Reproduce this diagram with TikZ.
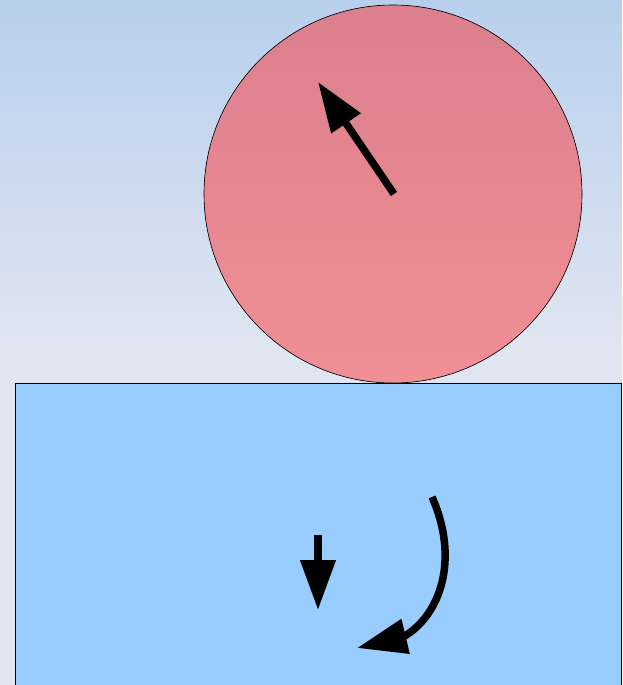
\documentclass[tikz,border=0pt]{standalone}
\usepackage{tikz}
\usetikzlibrary{arrows.meta}
\definecolor{skytop}{RGB}{184, 207, 236}
\definecolor{skybottom}{RGB}{223, 229, 241}
\definecolor{balltop}{RGB}{220, 127, 142}
\definecolor{ballbottom}{RGB}{240, 143, 149}
\definecolor{blockfill}{RGB}{153, 204, 255}

\begin{document}
\begin{tikzpicture}[
          x=1pt, y=-1pt,
          ball/.style={draw=black, line width=0.6pt, top color=balltop, bottom color=ballbottom},
          block/.style={draw=black, line width=0.8pt, fill=blockfill},
          arr/.style={-{Triangle[length=50pt, width=34pt]}, line width=7.5pt, color=black},
        ]
        % background
        \fill[skybottom] (0,0) rectangle (622,685);
        \shade[top color=skytop, bottom color=skybottom] (0,0) rectangle (622,345);
        \useasboundingbox (0,0) rectangle (622,685);
        % ball and block
        \fill[ball] (393,194) circle[radius=189];
        \draw[block] (15,700) |- (621,383.5) -- (621,700);
        % arrows
        \coordinate (vtail) at (394,194);
        \coordinate (vhead) at (318,82);
        \coordinate (gtail) at (318,535);
        \coordinate (ghead) at (318,610);
        \coordinate (rtail) at (432,497);
        \coordinate (rbend) at (403,637);
        \coordinate (rhead) at (357,648);
        \draw[arr] (vtail) -- (vhead);
        \draw[arr] (gtail) -- (ghead);
        \draw[arr] (rtail) .. controls (460,560) and (440,616) .. (rbend) -- (rhead);
      \end{tikzpicture}
\end{document}
